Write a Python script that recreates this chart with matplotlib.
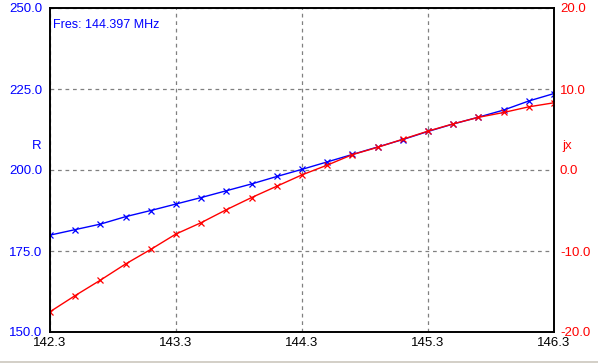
import numpy as np
import matplotlib
matplotlib.use("Agg")
import matplotlib.pyplot as plt
from matplotlib.patches import Rectangle

plt.rcParams["font.family"] = ["Liberation Sans", "DejaVu Sans"]

# ── Data: antenna impedance sweep ────────────────────────────────────────────
freq_mhz = [142.3, 142.5, 142.7, 142.9, 143.1, 143.3, 143.5, 143.7, 143.9, 144.1,
            144.3, 144.5, 144.7, 144.9, 145.1, 145.3, 145.5, 145.7, 145.9, 146.1,
            146.3]
resistance = [179.9, 181.6, 183.3, 185.6, 187.5, 189.5, 191.5, 193.6, 195.7, 198.0,
              200.2, 202.5, 204.8, 207.1, 209.4, 211.9, 214.2, 216.3, 218.5, 221.3,
              223.6]
reactance = [-17.5, -15.5, -13.6, -11.6, -9.8, -7.9, -6.5, -4.9, -3.4, -2.0,
             -0.6, 0.6, 1.9, 2.8, 3.8, 4.8, 5.7, 6.5, 7.1, 7.8,
             8.3]
x_ticks = [142.3, 143.3, 144.3, 145.3, 146.3]
r_ticks = [150, 175, 200, 225, 250]
jx_ticks = [-20, -10, 0, 10, 20]
fres_label = "Fres: 144.397 MHz"

BLUE = "#0000ff"
RED = "#ff0000"
GRID = "#808080"

fig = plt.figure(figsize=(5.98, 3.63), dpi=100)
ax = fig.add_axes([50 / 598, 31 / 363, 504 / 598, 324 / 363])
ax2 = ax.twinx()

ax.plot(freq_mhz, resistance, color=BLUE, lw=1, marker="x", ms=5, mew=0.9)
ax2.plot(freq_mhz, reactance, color=RED, lw=1, marker="x", ms=5, mew=0.9)

ax.set_xlim(142.3, 146.3)
ax.set_ylim(150, 250)
ax2.set_ylim(-20, 20)

ax.set_xticks(x_ticks)
ax.set_xticklabels([f"{v:.1f}" for v in x_ticks])
ax.set_yticks(r_ticks)
ax.set_yticklabels([f"{v:.1f}" for v in r_ticks])
ax2.set_yticks(jx_ticks)
ax2.set_yticklabels([f"{v:.1f}" for v in jx_ticks])

ax.grid(True, color=GRID, ls=(0, (3, 3)), lw=0.9)
ax.set_axisbelow(True)

ax.tick_params(axis="x", length=0, pad=3.5, labelsize=9.5, labelcolor="black")
ax.tick_params(axis="y", length=0, pad=5.5, labelsize=9.5, labelcolor=BLUE)
ax2.tick_params(axis="y", length=0, pad=4.3, labelsize=9.5, labelcolor=RED)

for a in (ax, ax2):
    for s in a.spines.values():
        s.set_color("black")
        s.set_linewidth(1.2)

ax.text(-0.026, 0.574, "R", transform=ax.transAxes, color=BLUE,
        fontsize=9.5, ha="center", va="center")
ax2.text(1.026, 0.574, "jx", transform=ax.transAxes, color=RED,
         fontsize=9.5, ha="center", va="center")
ax.text(0.006, 0.948, fres_label, transform=ax.transAxes, color=BLUE,
        fontsize=9, ha="left", va="center")

# window frame at the bottom
fig.add_artist(Rectangle((0, 0), 1, 2 / 363, transform=fig.transFigure,
                         facecolor="#d4d0c8", edgecolor="none"))

fig.savefig("out.png", dpi=100)
